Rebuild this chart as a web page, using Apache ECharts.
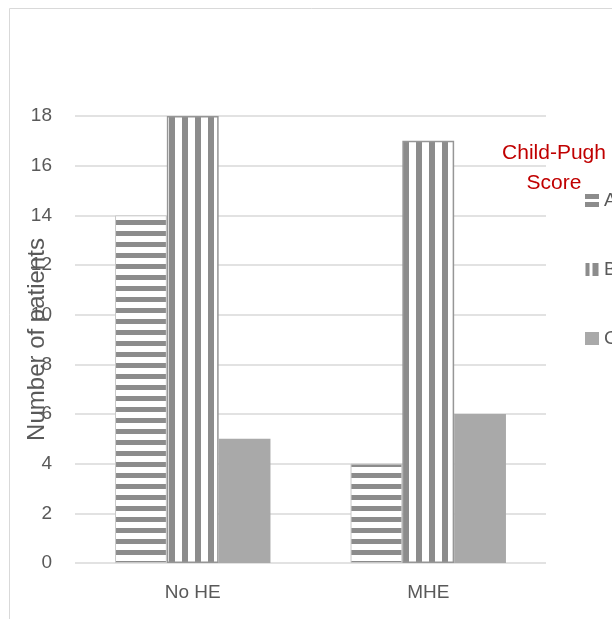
<!DOCTYPE html>
<html>
<head>
<meta charset="utf-8">
<script src="https://cdn.jsdelivr.net/npm/echarts@6/dist/echarts.min.js"></script>
<style>html,body{margin:0;padding:0;background:#fff;}#c{width:612px;height:619px;}</style>
</head>
<body>
<div id="c"></div>
<script>
var categories = ['No HE', 'MHE'];
var seriesNames = ['A', 'B', 'C'];
var valuesA = [14, 4];
var valuesB = [18, 17];
var valuesC = [5, 6];
var yTicks = {min: 0, max: 18, interval: 2};

function hStripe() {
  var c = document.createElement('canvas');
  c.width = 4; c.height = 11;
  var g = c.getContext('2d');
  g.fillStyle = '#ffffff'; g.fillRect(0, 0, 4, 11);
  g.fillStyle = '#8c8c8c'; g.fillRect(0, 0, 4, 5);
  return c;
}
function vStripe() {
  var c = document.createElement('canvas');
  c.width = 13; c.height = 4;
  var g = c.getContext('2d');
  g.fillStyle = '#ffffff'; g.fillRect(0, 0, 13, 4);
  g.fillStyle = '#8c8c8c'; g.fillRect(0, 0, 6, 4);
  return c;
}

var chart = echarts.init(document.getElementById('c'), null, {renderer: 'canvas'});
var font = 'Liberation Sans, Arial, sans-serif';
chart.setOption({
  animation: false,
  backgroundColor: '#ffffff',
  graphic: [
    {type: 'rect', shape: {x: 9.5, y: 8.5, width: 800, height: 800}, style: {fill: 'none', stroke: '#d9d9d9', lineWidth: 1}, z: -1},
    {type: 'text', x: 554, y: 138, style: {text: 'Child-Pugh\nScore', fill: '#c00000', font: '21px ' + font, align: 'center', verticalAlign: 'top', lineHeight: 30}}
  ],
  grid: {left: 75, right: 66, top: 116, bottom: 56, outerBoundsMode: 'none', containLabel: false},
  legend: {
    orient: 'vertical', left: 580, top: 186,
    itemWidth: 14, itemHeight: 13, itemGap: 50,
    textStyle: {color: '#595959', fontSize: 19, fontFamily: font},
    itemStyle: {borderWidth: 0},
    data: [
      {name: 'A', icon: 'path://M0,0H14V5H0Z M0,8H14V13H0Z', itemStyle: {color: '#8c8c8c'}},
      {name: 'B', icon: 'path://M0,0H4V13H0Z M7,0H13V13H7Z', itemStyle: {color: '#8c8c8c'}},
      {name: 'C', icon: 'rect', itemStyle: {color: '#a9a9a9'}}
    ]
  },
  xAxis: {
    type: 'category', data: categories,
    axisLine: {show: false}, axisTick: {show: false},
    axisLabel: {color: '#595959', fontSize: 19, fontFamily: font, margin: 20}
  },
  yAxis: {
    type: 'value', min: yTicks.min, max: yTicks.max, interval: yTicks.interval,
    name: 'Number of patients', nameLocation: 'middle', nameGap: 26, nameMoveOverlap: false,
    nameTextStyle: {color: '#595959', fontSize: 24, fontFamily: font},
    axisLine: {show: false}, axisTick: {show: false},
    axisLabel: {color: '#595959', fontSize: 19, fontFamily: font, margin: 23},
    splitLine: {lineStyle: {color: '#d9d9d9', width: 1.5}}
  },
  series: [
    {name: 'A', type: 'bar', data: valuesA, barGap: '0%', barCategoryGap: '34%',
     itemStyle: {color: {image: hStripe(), repeat: 'repeat'}, borderColor: '#c8c8c8', borderWidth: 1}},
    {name: 'B', type: 'bar', data: valuesB,
     itemStyle: {color: {image: vStripe(), repeat: 'repeat'}, borderColor: '#969696', borderWidth: 1.5}},
    {name: 'C', type: 'bar', data: valuesC,
     itemStyle: {color: '#a9a9a9'}}
  ]
});
</script>
</body>
</html>
